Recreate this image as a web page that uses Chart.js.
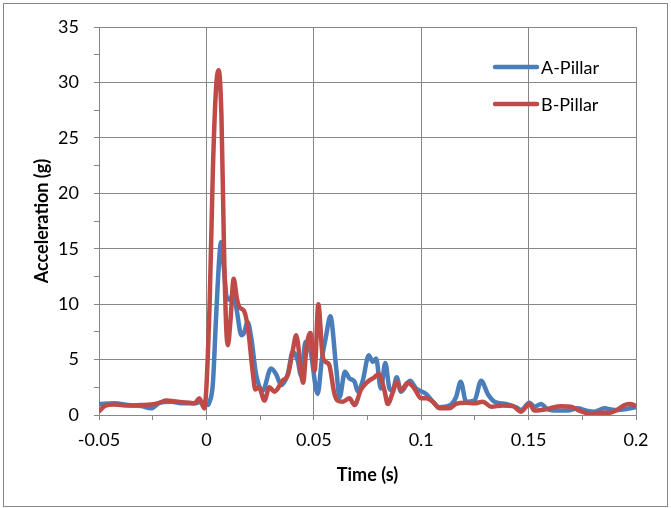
<!DOCTYPE html>
<html>
<head>
<meta charset="utf-8">
<script src="https://cdn.jsdelivr.net/npm/chart.js@4/dist/chart.umd.min.js"></script>
<style>
  body { margin: 0; background: #fff; }
  #wrap { position: relative; width: 671px; height: 508px; }
</style>
</head>
<body>
<div id="wrap"><canvas id="chart" width="671" height="508"></canvas></div>
<script>
// A-Pillar accelerometer trace (time in s, acceleration in g)
const timeA = [
  -0.05, -0.0428, -0.0366, -0.0304, -0.0257, -0.0219, -0.0164, -0.011, -0.0056, -0.0025,
  0.0006, 0.0015, 0.003, 0.0045, 0.006, 0.0068, 0.008, 0.0095, 0.011, 0.0125,
  0.014, 0.0163, 0.0175, 0.0192, 0.021, 0.0231, 0.0262, 0.0301, 0.0324, 0.0348,
  0.0379, 0.0402, 0.0425, 0.044, 0.0462, 0.0485, 0.0518, 0.0538, 0.0556, 0.0577,
  0.0604, 0.062, 0.0645, 0.0666, 0.069, 0.0705, 0.0728, 0.0756, 0.0774, 0.079,
  0.0812, 0.0833, 0.0852, 0.0867, 0.0886, 0.0906, 0.0948, 0.0976, 0.1023, 0.1054,
  0.1085, 0.1131, 0.1162, 0.1184, 0.1209, 0.1248, 0.1279, 0.131, 0.1341, 0.1395,
  0.1442, 0.1465, 0.1504, 0.1527, 0.1558, 0.1589, 0.1636, 0.1682, 0.1729, 0.1768,
  0.1806, 0.1853, 0.19, 0.1938, 0.2
];
const accelA = [
  1.0, 1.05, 0.9, 0.8, 0.6, 1.1, 1.2, 1.05, 1.05, 1.2,
  0.9, 1.2, 2.8, 8.8, 14.2, 15.6, 13.5, 10.6, 10.4, 11.0,
  9.6, 7.2, 7.4, 8.4, 6.8, 3.7, 2.2, 4.2, 3.7, 2.7,
  3.7, 5.7, 4.9, 3.6, 6.6, 5.7, 1.9, 5.1, 7.0, 8.9,
  4.3, 1.6, 3.9, 3.3, 3.0, 2.1, 3.1, 5.4, 4.8, 5.1,
  2.4, 4.7, 2.4, 2.2, 3.4, 2.1, 3.1, 2.4, 1.9, 1.2,
  0.7, 0.85, 1.6, 3.0, 1.2, 1.3, 3.1, 1.9, 1.2, 1.0,
  0.7, 0.45, 1.1, 0.75, 1.0, 0.5, 0.4, 0.4, 0.6, 0.4,
  0.3, 0.6, 0.45, 0.5, 0.7
];

// B-Pillar accelerometer trace
const timeB = [
  -0.05, -0.0475, -0.0428, -0.0366, -0.0304, -0.0257, -0.0219, -0.0187, -0.0134, -0.0079,
  -0.0056, -0.0033, -0.001, 0.0015, 0.003, 0.0045, 0.0057, 0.007, 0.0082, 0.0092,
  0.01, 0.0112, 0.0127, 0.0142, 0.0155, 0.0175, 0.0195, 0.0215, 0.0228, 0.0245,
  0.027, 0.0293, 0.0317, 0.0355, 0.0379, 0.0402, 0.0418, 0.045, 0.0466, 0.0484,
  0.0504, 0.0521, 0.054, 0.0555, 0.0572, 0.0595, 0.0611, 0.0635, 0.0666, 0.069,
  0.072, 0.0751, 0.0782, 0.0802, 0.0829, 0.0844, 0.0867, 0.0886, 0.0906, 0.0937,
  0.0968, 0.1, 0.1023, 0.1054, 0.1085, 0.1131, 0.1162, 0.1209, 0.1248, 0.1287,
  0.1325, 0.138, 0.1426, 0.1465, 0.1504, 0.1527, 0.1558, 0.1597, 0.165, 0.1697,
  0.1736, 0.1791, 0.183, 0.1876, 0.1907, 0.1946, 0.1977, 0.2
];
const accelB = [
  0.3, 0.8, 0.95, 0.85, 0.9, 0.95, 1.1, 1.3, 1.2, 1.1,
  1.05, 1.5, 0.6, 10, 22, 29.5, 31.1, 27, 15, 8,
  6.3, 8.5, 12.3, 10.5, 9.7, 9.4, 7.6, 4.0, 2.3, 2.5,
  1.3, 2.5, 2.1, 3.1, 3.6, 5.8, 7.2, 2.9, 6.1, 7.4,
  4.0, 10.0, 5.5, 4.8, 4.5, 2.0, 1.3, 1.2, 1.5, 0.9,
  2.3, 3.0, 3.4, 3.7, 2.2, 1.0, 2.0, 3.0, 2.2, 2.9,
  2.4, 1.5, 1.5, 1.2, 0.6, 0.6, 1.0, 1.1, 1.05, 1.2,
  0.75, 0.85, 0.8, 0.3, 1.0, 0.4, 0.45, 0.6, 0.8, 0.75,
  0.4, 0.1, 0.2, 0.2, 0.4, 0.9, 1.0, 0.8
];

const seriesNames = ['A-Pillar', 'B-Pillar'];
const seriesColors = ['#4a7ebb', '#be4b48'];

const GRID = '#868686';
const FONT = 'Lato, "Open Sans", sans-serif';

const toPoints = (xs, ys) => xs.map((x, i) => ({ x, y: ys[i] }));
const isMajor = (v, step) => Math.abs(v / step - Math.round(v / step)) < 1e-6;

// legend sits inside the plot, top right
const insideLegend = {
  id: 'insideLegend',
  afterDraw(chart) {
    const { ctx, chartArea } = chart;
    const x0 = chartArea.right - 141;
    ctx.save();
    ctx.font = '18px ' + FONT;
    ctx.textBaseline = 'middle';
    chart.data.datasets.forEach((ds, i) => {
      const y = chartArea.top + 40 + i * 37;
      ctx.strokeStyle = ds.borderColor;
      ctx.lineWidth = 4.5;
      ctx.lineCap = 'round';
      ctx.beginPath();
      ctx.moveTo(x0, y);
      ctx.lineTo(x0 + 42, y);
      ctx.stroke();
      ctx.fillStyle = '#000';
      ctx.fillText(ds.label, x0 + 46, y + 1);
    });
    ctx.restore();
  }
};

// thin frame around the whole chart
const chartFrame = {
  id: 'chartFrame',
  beforeDraw(chart) {
    const { ctx, width, height } = chart;
    ctx.save();
    ctx.fillStyle = '#fff';
    ctx.fillRect(0, 0, width, height);
    ctx.strokeStyle = GRID;
    ctx.lineWidth = 1;
    ctx.strokeRect(3.5, 3.5, width - 7, height - 5);
    ctx.restore();
  }
};

new Chart(document.getElementById('chart'), {
  type: 'line',
  data: {
    datasets: [
      {
        label: seriesNames[0],
        data: toPoints(timeA, accelA),
        borderColor: seriesColors[0],
        borderWidth: 4.5,
        pointRadius: 0,
        cubicInterpolationMode: 'monotone',
        order: 1
      },
      {
        label: seriesNames[1],
        data: toPoints(timeB, accelB),
        borderColor: seriesColors[1],
        borderWidth: 4.5,
        pointRadius: 0,
        cubicInterpolationMode: 'monotone',
        order: 0
      }
    ]
  },
  options: {
    responsive: false,
    animation: false,
    devicePixelRatio: 1,
    layout: { padding: { left: 0, top: 27, right: 35, bottom: 0 } },
    plugins: { legend: { display: false }, tooltip: { enabled: false } },
    scales: {
      x: {
        type: 'linear',
        min: -0.05,
        max: 0.2,
        afterFit(scale) { scale.height = 93; scale.paddingLeft = 0; scale.paddingRight = 0; },
        ticks: {
          stepSize: 0.025,
          autoSkip: false,
          maxRotation: 0,
          padding: 9,
          color: '#000',
          font: { family: FONT, size: 18 },
          callback: v => isMajor(v, 0.05) ? String(Math.round(v * 100) / 100) : ''
        },
        grid: {
          color: c => isMajor(c.tick.value, 0.05) ? GRID : 'rgba(0,0,0,0)',
          tickColor: GRID,
          tickLength: 5,
          lineWidth: 1
        },
        border: { color: GRID, width: 1 },
        title: {
          display: true,
          text: 'Time (s)',
          color: '#000',
          font: { family: FONT, size: 18, weight: 'bold' },
          padding: { top: 0, bottom: 22 }
        }
      },
      y: {
        min: 0,
        max: 35,
        afterFit(scale) { scale.width = 99; scale.paddingTop = 0; scale.paddingBottom = 0; },
        ticks: {
          stepSize: 2.5,
          autoSkip: false,
          padding: 15,
          color: '#000',
          font: { family: FONT, size: 18 },
          callback: v => isMajor(v, 5) ? String(v) : ''
        },
        grid: {
          color: c => isMajor(c.tick.value, 5) ? GRID : 'rgba(0,0,0,0)',
          tickColor: GRID,
          tickLength: 5,
          lineWidth: 1
        },
        border: { color: GRID, width: 1 },
        title: {
          display: true,
          text: 'Acceleration (g)',
          color: '#000',
          font: { family: FONT, size: 18, weight: 'bold' },
          padding: { top: 31, bottom: 0 }
        }
      }
    }
  },
  plugins: [chartFrame, insideLegend]
});
</script>
</body>
</html>
